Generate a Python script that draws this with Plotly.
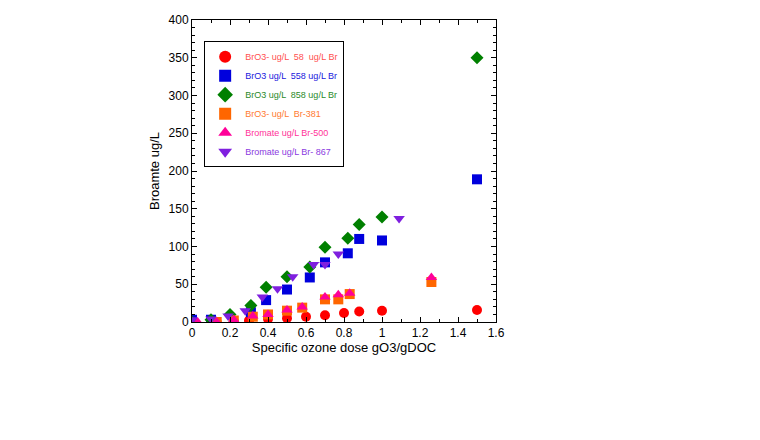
import plotly.graph_objects as go

red_x = [0, 0.13, 0.22, 0.3, 0.4, 0.5, 0.6, 0.7, 0.8, 0.88, 1.0, 1.5]
red_y = [0, 0, 1, 2, 4, 5, 7, 9, 12, 14, 15, 16]
blue_x = [0, 0.1, 0.31, 0.39, 0.5, 0.62, 0.7, 0.82, 0.88, 1.0, 1.5]
blue_y = [3, 3, 13, 29, 43, 59, 79, 91, 110, 108, 189]
green_x = [0, 0.1, 0.2, 0.31, 0.39, 0.5, 0.62, 0.7, 0.82, 0.88, 1.0, 1.5]
green_y = [0, 3, 10, 22, 46, 60, 73, 99, 111, 129, 139, 350]
orange_x = [0.13, 0.22, 0.32, 0.4, 0.5, 0.58, 0.7, 0.77, 0.83, 1.26]
orange_y = [0, 2, 7, 10, 15, 19, 30, 30, 37, 53]
pink_x = [0.03, 0.13, 0.22, 0.32, 0.4, 0.5, 0.58, 0.7, 0.77, 0.83, 1.26]
pink_y = [0, 0, 3, 8, 10, 16, 20, 33, 36, 38, 59]
purple_x = [0, 0.1, 0.19, 0.28, 0.37, 0.45, 0.53, 0.64, 0.7, 0.77, 1.09]
purple_y = [3, 4, 8, 15, 33, 44, 60, 76, 76, 90, 137]

series = [
    ("BrO3- ug/L  58  ug/L Br", red_x, red_y, "circle", "#ff0000", "#ff5050"),
    ("BrO3 ug/L  558 ug/L Br", blue_x, blue_y, "square", "#0000dd", "#2020dd"),
    ("BrO3 ug/L  858 ug/L Br", green_x, green_y, "diamond", "#008000", "#2a8a2a"),
    ("BrO3- ug/L  Br-381", orange_x, orange_y, "square", "#ff6600", "#ff7a30"),
    ("Bromate ug/L Br-500", pink_x, pink_y, "triangle-up", "#ff0099", "#ff3399"),
    ("Bromate ug/L Br- 867", purple_x, purple_y, "triangle-down", "#7f1fdf", "#8a3ae0"),
]

fig = go.Figure()
for name, x, y, sym, col, txt in series:
    fig.add_trace(go.Scatter(x=x, y=y, mode="markers",
                             name="<span style='color:%s'>%s</span>" % (txt, name),
                             marker=dict(symbol=sym, color=col, size=10, line=dict(width=0))))

axis = dict(showgrid=False, zeroline=False, showline=True, linecolor="black", linewidth=1,
            mirror="allticks", ticks="inside", ticklen=5, tickcolor="black", automargin=False,
            minor=dict(ticks="inside", ticklen=3, tickcolor="black"),
            tickfont=dict(size=12, color="black"))
fig.update_xaxes(range=[0, 1.6], dtick=0.2, title=dict(text="Specific ozone dose gO3/gDOC", standoff=0,
                 font=dict(size=13)), minor_dtick=0.1, **axis)
fig.update_yaxes(range=[0, 400], dtick=50, title=dict(text="Broamte ug/L", standoff=6, font=dict(size=13)),
                 minor_dtick=10, **axis)

fig.update_layout(
    width=760, height=440, margin=dict(l=184, r=272, t=12, b=126, autoexpand=False),
    plot_bgcolor="white", paper_bgcolor="white",
    font=dict(family="Liberation Sans, Arial", color="black"),
    legend=dict(x=0.04, y=0.93, xanchor="left", yanchor="top", bgcolor="white",
                bordercolor="black", borderwidth=1, font=dict(size=9),
                itemsizing="constant", tracegroupgap=0, itemwidth=30),
)
fig.write_html("out.html")
